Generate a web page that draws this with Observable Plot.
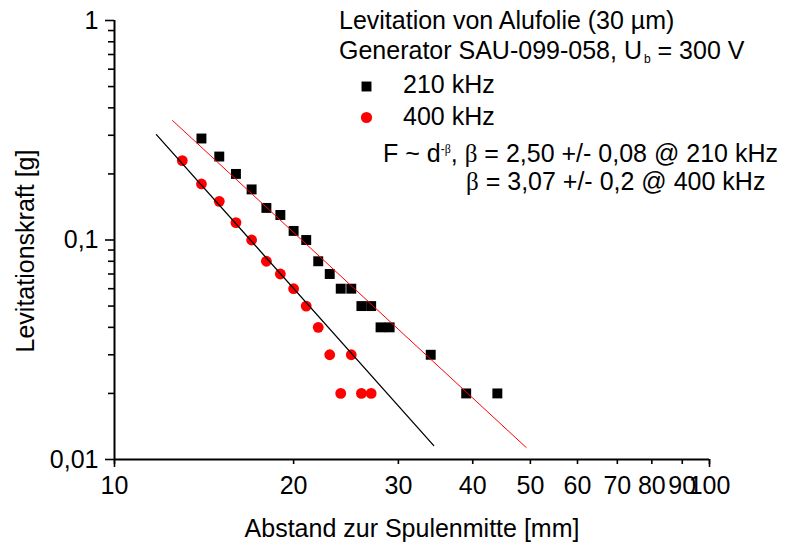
<!DOCTYPE html>
<html><head><meta charset="utf-8">
<script src="https://cdn.jsdelivr.net/npm/d3@7"></script>
<script src="https://cdn.jsdelivr.net/npm/@observablehq/plot@0.6"></script>
<style>body{margin:0;background:#fff} svg{display:block}</style>
</head><body><div id="chart"></div>
<script>
// 210 kHz (black squares)
const d210 = [14, 15, 16, 17, 18, 19, 20, 21, 22, 23, 24, 25, 26, 27, 28, 29, 34, 39, 44];
const F210 = [0.29, 0.24, 0.20, 0.17, 0.14, 0.13, 0.11, 0.10, 0.08, 0.07, 0.06, 0.06, 0.05, 0.05, 0.04, 0.04, 0.03, 0.02, 0.02];
// 400 kHz (red circles)
const d400 = [13, 14, 15, 16, 17, 18, 19, 20, 21, 22, 23, 25, 24, 26, 27];
const F400 = [0.23, 0.18, 0.15, 0.12, 0.10, 0.08, 0.07, 0.06, 0.05, 0.04, 0.03, 0.03, 0.02, 0.02, 0.02];
// fit lines (endpoints)
const fit210_d = [12.52, 49.2];
const fit210_F = [0.350, 0.01134];
const fit400_d = [11.76, 34.4];
const fit400_F = [0.302, 0.01157];
// ticks
const xTicks = [10, 20, 30, 40, 50, 60, 70, 80, 90, 100];
const xTickLabels = ["10", "20", "30", "40", "50", "60", "70", "80", "90", "100"];
const xMajorTicks = [10, 100];
const yTicks = [0.01, 0.1, 1];
const yTickLabels = ["0,01", "0,1", "1"];
const yMinorTicks = [0.02, 0.03, 0.04, 0.05, 0.06, 0.07, 0.08, 0.09, 0.2, 0.3, 0.4, 0.5, 0.6, 0.7, 0.8, 0.9];
const xLabel = "Abstand zur Spulenmitte [mm]";
const yLabel = "Levitationskraft [g]";
const titleLine1 = "Levitation von Alufolie (30 µm)";
const series = ["210 kHz", "400 kHz"];

const pts210 = d210.map((d, i) => ({d, F: F210[i]}));
const pts400 = d400.map((d, i) => ({d, F: F400[i]}));
const line210 = fit210_d.map((d, i) => ({d, F: fit210_F[i]}));
const line400 = fit400_d.map((d, i) => ({d, F: fit400_F[i]}));
const xTickData = xTicks.map((d, i) => ({d, label: xTickLabels[i]}));

const FONT = "'Liberation Sans', Arial, sans-serif";
const FS = 25;

const plot = Plot.plot({
  width: 787,
  height: 542,
  marginLeft: 114,
  marginRight: 78,
  marginTop: 20,
  marginBottom: 83,
  style: {fontFamily: FONT, fontSize: FS + "px", background: "#fff", color: "#000"},
  x: {type: "log", domain: [10, 100], label: null},
  y: {type: "log", domain: [0.01, 1], label: null},
  marks: [
    Plot.axisY(yMinorTicks, {tickSize: 6, strokeWidth: 1.6, tickFormat: () => "", label: null}),
    Plot.axisY(yTicks, {tickSize: 9, tickPadding: 7, strokeWidth: 1.6, fontSize: FS, tickFormat: d => yTickLabels[yTicks.indexOf(d)], label: null}),
    Plot.axisX(xTicks, {tickSize: 5, strokeWidth: 1.6, tickFormat: () => "", label: null}),
    Plot.axisX(xMajorTicks, {tickSize: 8, strokeWidth: 1.6, tickFormat: () => "", label: null}),
    Plot.text(xTickData, {x: "d", text: "label", frameAnchor: "bottom", dy: 34, lineAnchor: "bottom", fontSize: FS}),
    Plot.ruleY([0.01], {strokeWidth: 2}),
    Plot.ruleX([10], {strokeWidth: 2}),
    Plot.dot(pts210, {x: "d", y: "F", symbol: "square", r: 5.6, fill: "#000", stroke: "none"}),
    Plot.dot(pts400, {x: "d", y: "F", symbol: "circle", r: 5.4, fill: "#ff0000", stroke: "none"}),
    Plot.line(line210, {x: "d", y: "F", stroke: "#ff0000", strokeWidth: 1}),
    Plot.line(line400, {x: "d", y: "F", stroke: "#000", strokeWidth: 1.3}),
    Plot.text([xLabel], {frameAnchor: "bottom", dy: 77, lineAnchor: "bottom", fontSize: FS}),
    // legend symbols
    Plot.dot([series[0]], {frameAnchor: "top-left", dx: 252, dy: 66, symbol: "square", r: 5.6, fill: "#000", stroke: "none"}),
    Plot.dot([series[1]], {frameAnchor: "top-left", dx: 252, dy: 97, symbol: "circle", r: 5.6, fill: "#ff0000", stroke: "none"})
  ]
});

document.getElementById("chart").appendChild(plot);

const svg = d3.select(plot);
// y axis title
svg.append("text")
  .attr("font-family", FONT).attr("font-size", FS).attr("fill", "#000")
  .attr("text-anchor", "middle")
  .attr("transform", "translate(34,251) rotate(-90)")
  .text(yLabel);

// legend / annotation texts
const g = svg.append("g").attr("font-family", FONT).attr("font-size", FS).attr("fill", "#000").attr("text-anchor", "start");
g.append("text").attr("x", 339).attr("y", 29).text(titleLine1);
const t2 = g.append("text").attr("x", 339).attr("y", 59);
t2.append("tspan").text("Generator SAU-099-058, U");
t2.append("tspan").attr("font-size", 12).attr("dy", 4).attr("dx", 2).text("b");
t2.append("tspan").attr("dy", -4).text(" = 300 V");
g.append("text").attr("x", 403).attr("y", 93).text(series[0]);
g.append("text").attr("x", 403).attr("y", 125).text(series[1]);
const t3 = g.append("text").attr("x", 383).attr("y", 162);
t3.append("tspan").text("F ~ d");
t3.append("tspan").attr("font-size", 12).attr("dy", -9).text("-");
t3.append("tspan").attr("font-size", 12).attr("font-family", "'Liberation Serif', serif").text("β");
t3.append("tspan").attr("dy", 9).text(", ");
t3.append("tspan").attr("font-family", "'Liberation Serif', serif").text("β");
t3.append("tspan").text(" = 2,50 +/- 0,08 @ 210 kHz");
const t4 = g.append("text").attr("x", 466).attr("y", 190);
t4.append("tspan").attr("font-family", "'Liberation Serif', serif").text("β");
t4.append("tspan").text(" = 3,07 +/- 0,2 @ 400 kHz");
</script>
</body></html>
